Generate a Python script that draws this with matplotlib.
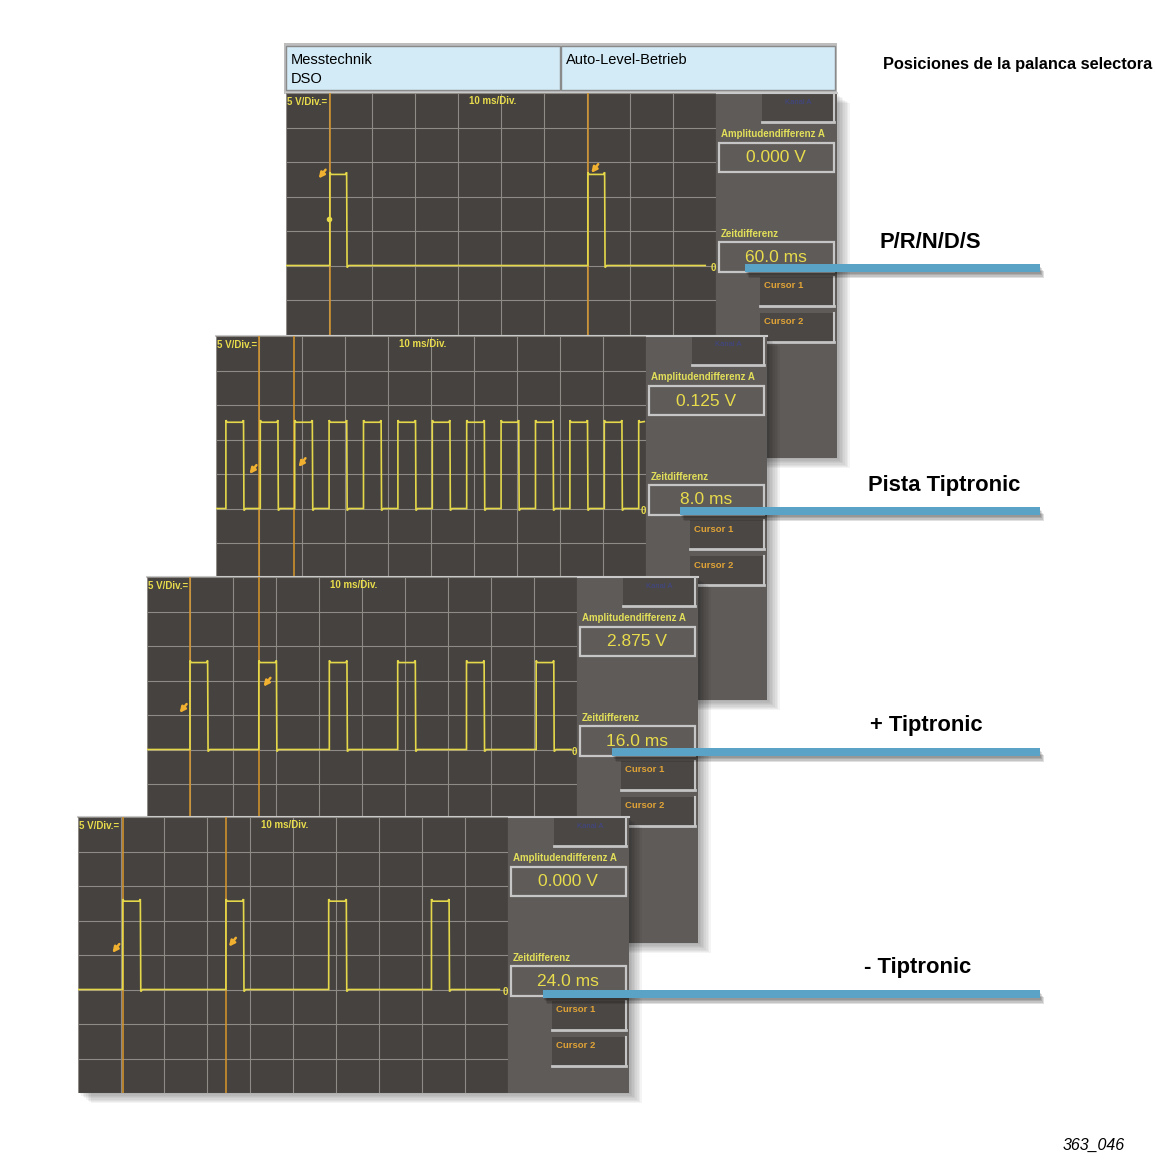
#!/usr/bin/env python3
"""DSO screenshots of the selector lever signal, stacked like the workshop manual page."""

import matplotlib

matplotlib.use("Agg")
import matplotlib.pyplot as plt
from matplotlib.patches import Rectangle

# --- data ---
POSITIONS = ["P/R/N/D/S", "Pista Tiptronic", "+ Tiptronic", "- Tiptronic"]
AMPLITUDE_DIFF = ["0.000 V", "0.125 V", "2.875 V", "0.000 V"]
TIME_DIFF = ["60.0 ms", "8.0 ms", "16.0 ms", "24.0 ms"]

# rising edges of each pulse (ms), pulse width (ms), high level (V)
PULSE_STARTS = [
    [10.2, 70.2],
    [2.3, 10.3, 18.3, 26.3, 34.3, 42.3, 50.3, 58.3, 66.3, 74.3, 82.3, 90.3, 98.3],
    [10.0, 26.0, 42.4, 58.3, 74.3, 90.5],
    [10.4, 34.4, 58.3, 82.2],
]
PULSE_WIDTH = [4.0, 4.2, 4.2, 4.2]
PULSE_HIGH = [13.2, 12.5, 12.6, 12.8]
TRACE_END = [97.5, 99.6, 98.6, 98.0]
CURSOR_T = [[10.2, 70.2], [10.1, 18.2], [10.0, 26.0], [10.4, 34.4]]
# little cursor arrows (t ms, V)
ARROWS = [
    [(8.4, 13.4), (71.8, 14.2)],
    [(8.6, 5.8), (20.0, 6.8)],
    [(8.4, 6.1), (27.9, 9.9)],
    [(8.8, 6.1), (35.9, 7.0)],
]
TRIGGER_MARK = (10.1, 6.8)
# ---------------------------------

W, H = 1155, 1168
PANEL_X = [286, 216, 147, 78]
PANEL_Y = [93, 336, 577, 817]
PANEL_H = [365, 364, 366, 276]
PLOT_W, PLOT_H, COL_W = 430, 276, 121

BG_PLOT = "#46423f"
BG_COL = "#5f5b58"
BTN = "#4a4745"
GRID = "#8e8a85"
TRACE = "#e4d84a"
CURSOR = "#d8962c"
LABEL = "#e2df5a"
VALUE = "#e8dc4c"
ORANGE = "#e2a436"
BAR = "#5aa2c6"

plt.rcParams["font.family"] = ["Liberation Sans", "DejaVu Sans"]


def fig_rect(x, y, w, h):
    return [x / W, 1 - (y + h) / H, w / W, h / H]


def pixel_axes(fig):
    ax = fig.add_axes([0, 0, 1, 1])
    ax.set_xlim(0, W)
    ax.set_ylim(H, 0)
    ax.axis("off")
    ax.patch.set_visible(False)
    return ax


def pulse_trace(starts, width, high, t_end):
    t, v = [0.0], [0.0]
    for s in starts:
        if s + width > t_end:
            t += [s, s, s + 0.3, t_end]
            v += [0.0, high + 0.3, high, high + 0.1]
            return t, v
        t += [s, s, s + 0.3, s + width - 0.4, s + width - 0.1, s + width, s + width + 0.4]
        v += [0.0, high + 0.3, high, high, high + 0.3, -0.3, 0.0]
    t.append(t_end)
    v.append(0.0)
    return t, v


def draw_frame(fa, i):
    x0, y0, ph = PANEL_X[i], PANEL_Y[i], PANEL_H[i]
    pw = PLOT_W + COL_W
    # soft drop shadow
    for k in range(1, 9):
        fa.add_patch(Rectangle((x0 + k * 1.6, y0 + k * 1.3), pw, ph,
                               color="black", alpha=0.045, lw=0))
    fa.add_patch(Rectangle((x0, y0), pw, ph, color=BG_COL, lw=0))
    fa.add_patch(Rectangle((x0, y0), PLOT_W, ph, color=BG_PLOT, lw=0))
    fa.plot([x0, x0 + pw], [y0 - 0.5, y0 - 0.5], color="#c9c9c9", lw=1.5)

    xr = x0 + PLOT_W
    # top button
    fa.add_patch(Rectangle((xr + 46, y0 + 1), 72, 28, facecolor=BTN, edgecolor="none"))
    fa.plot([xr + 46, xr + 118], [y0 + 29, y0 + 29], color="#c4c4c4", lw=2)
    fa.plot([xr + 118, xr + 118], [y0 + 1, y0 + 29], color="#c4c4c4", lw=1.5)
    fa.text(xr + 82, y0 + 9, "Kanal A", color="#3c46a8", fontsize=5.5, ha="center",
            va="center", alpha=0.7)

    fa.text(xr + 5, y0 + 41, "Amplitudendifferenz A", color=LABEL, fontsize=7,
            fontweight="bold", va="center")
    fa.add_patch(Rectangle((xr + 3, y0 + 50), 115, 29, facecolor="none",
                           edgecolor="#c6c6c6", lw=1.6))
    fa.text(xr + 60, y0 + 65, AMPLITUDE_DIFF[i], color=VALUE, fontsize=12.5,
            ha="center", va="center")

    fa.text(xr + 5, y0 + 141, "Zeitdifferenz", color=LABEL, fontsize=7,
            fontweight="bold", va="center")
    fa.add_patch(Rectangle((xr + 3, y0 + 149), 115, 30, facecolor="none",
                           edgecolor="#c6c6c6", lw=1.6))
    fa.text(xr + 60, y0 + 164, TIME_DIFF[i], color=VALUE, fontsize=12.5,
            ha="center", va="center")

    for j, yb in enumerate([y0 + 184, y0 + 220]):
        fa.add_patch(Rectangle((xr + 44, yb), 74, 29, facecolor=BTN, edgecolor="none"))
        fa.plot([xr + 44, xr + 118], [yb + 29, yb + 29], color="#c4c4c4", lw=2)
        fa.plot([xr + 118, xr + 118], [yb, yb + 29], color="#c4c4c4", lw=1.5)
        fa.text(xr + 48, yb + 9, f"Cursor {j + 1}", color=ORANGE, fontsize=6.8,
                fontweight="bold", va="center")


def draw_scope(ax, i):
    ax.set_facecolor(BG_PLOT)
    ax.set_xlim(0, 100)
    ax.set_ylim(-15, 25)
    ax.set_xticks(range(0, 101, 10))
    ax.set_yticks(range(-15, 26, 5))
    ax.grid(True, color=GRID, lw=0.8)
    ax.tick_params(length=0, labelbottom=False, labelleft=False)
    for sp in ax.spines.values():
        sp.set_visible(False)

    for ct in CURSOR_T[i]:
        ax.axvline(ct, color=CURSOR, lw=1.1)

    t, v = pulse_trace(PULSE_STARTS[i], PULSE_WIDTH[i], PULSE_HIGH[i], TRACE_END[i])
    ax.plot(t, v, color=TRACE, lw=1.2, solid_joinstyle="miter")

    for (at, av) in ARROWS[i]:
        ax.annotate("", xy=(at - 1.2, av - 1.1), xytext=(at + 1.2, av + 0.8),
                    arrowprops=dict(arrowstyle="-|>", color="#f0b030", lw=1.8,
                                    mutation_scale=8))
    if i == 0:
        ax.plot(*TRIGGER_MARK, marker="o", ms=3, color=TRACE)

    ax.text(0.003, 0.985, "5 V/Div.=", transform=ax.transAxes, color=VALUE,
            fontsize=7, fontweight="bold", va="top")
    ax.text(42.6, 24.6, "10 ms/Div.", color=VALUE, fontsize=7, fontweight="bold",
            va="top")
    ax.text(99.9, -0.3, "0", color=VALUE, fontsize=7, fontweight="bold",
            ha="right", va="center")


def main():
    fig = plt.figure(figsize=(W / 100, H / 100), dpi=100)
    fig.patch.set_facecolor("white")

    for i in range(4):
        fa = pixel_axes(fig)
        if i == 0:
            # header bar of the first screenshot
            fa.add_patch(Rectangle((284, 43), 553, 51, color="#bdbdbd", lw=0))
            for cx, cw in [(286, 274), (561, 274)]:
                fa.add_patch(Rectangle((cx, 46), cw, 44, facecolor="#d2ebf7",
                                       edgecolor="#8a8a8a", lw=1))
            fa.text(291, 60, "Messtechnik", fontsize=10.5, va="center")
            fa.text(291, 79, "DSO", fontsize=10.5, va="center")
            fa.text(566, 60, "Auto-Level-Betrieb", fontsize=10.5, va="center")
        draw_frame(fa, i)
        ax = fig.add_axes(fig_rect(PANEL_X[i], PANEL_Y[i], PLOT_W, PLOT_H))
        draw_scope(ax, i)

    ov = pixel_axes(fig)
    ov.text(883, 64, "Posiciones de la palanca selectora", fontsize=11.8,
            fontweight="bold", va="center")
    bar_x = [745, 680, 612, 543]
    bar_y = [268, 511, 752, 994]
    lbl_x = [930, 944, 926, 918]
    for i, name in enumerate(POSITIONS):
        for k in range(1, 5):
            ov.add_patch(Rectangle((bar_x[i] + k, bar_y[i] - 3 + k * 1.6), 1040 - bar_x[i], 7,
                                   color="black", alpha=0.12, lw=0))
        ov.add_patch(Rectangle((bar_x[i], bar_y[i] - 4), 1040 - bar_x[i], 8,
                               color=BAR, lw=0))
        ov.text(lbl_x[i], bar_y[i] - 26, name, fontsize=15.8, fontweight="bold",
                ha="center", va="center")
    ov.text(1125, 1145, "363_046", fontsize=11.5, style="italic", ha="right",
            va="center")

    fig.savefig("out.png", dpi=100, facecolor="white")


if __name__ == "__main__":
    main()
